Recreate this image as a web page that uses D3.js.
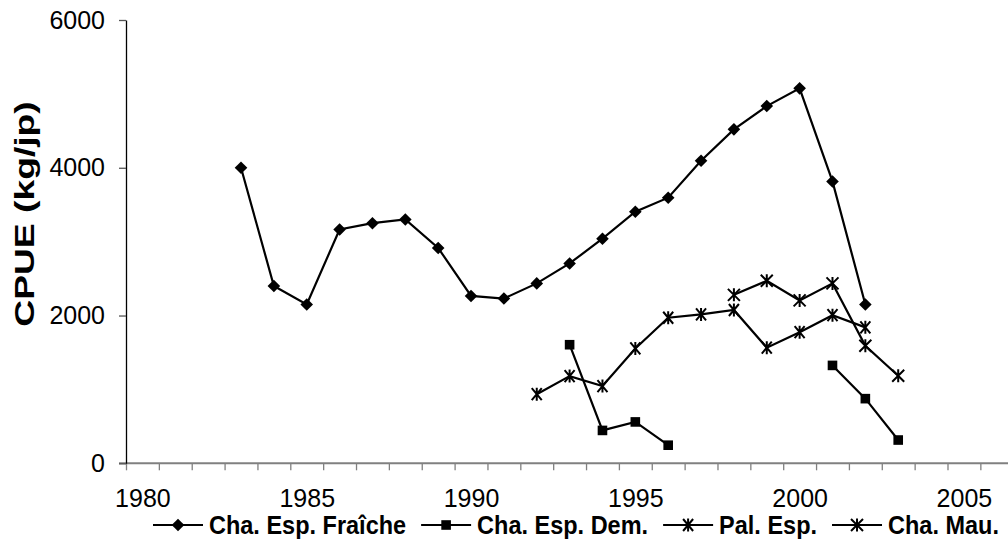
<!DOCTYPE html>
<html>
<head>
<meta charset="utf-8">
<script src="https://cdn.jsdelivr.net/npm/d3@7"></script>
<style>
  html, body { margin: 0; padding: 0; background: #fff; }
  svg { display: block; font-family: Arial, "Liberation Sans", sans-serif; }
</style>
</head>
<body>
<svg id="chart" width="1008" height="546"></svg>
<script>
// CPUE series (kg/jp) by year
const fraicheYears  = [1983,1984,1985,1986,1987,1988,1989,1990,1991,1992,1993,1994,1995,1996,1997,1998,1999,2000,2001,2002];
const fraicheValues = [4000,2400,2150,3165,3250,3300,2915,2265,2230,2435,2705,3040,3405,3595,4095,4520,4835,5075,3815,2150];

const demYears  = [1993,1994,1995,1996,1997,1998,1999,2000,2001,2002,2003];
const demValues = [1605,445,560,245,null,null,null,null,1325,875,315];

const palYears  = [1992,1993,1994,1995,1996,1997,1998,1999,2000,2001,2002];
const palValues = [935,1180,1045,1555,1970,2015,2075,1565,1775,2005,1840];

const mauYears  = [1998,1999,2000,2001,2002,2003];
const mauValues = [2280,2470,2205,2435,1590,1185];

const seriesNames = ["Cha. Esp. Fraîche", "Cha. Esp. Dem.", "Pal. Esp.", "Cha. Mau."];
const yTicks = [0, 2000, 4000, 6000];
const xLabelYears = [1980, 1985, 1990, 1995, 2000, 2005];
const firstYear = 1980, lastYear = 2006;

const svg = d3.select("#chart");

const left = 126, bandW = 32.86;
const x = d3.scaleLinear()
  .domain([firstYear - 0.5, lastYear + 0.5])
  .range([left, left + (lastYear - firstYear + 1) * bandW]);
const y = d3.scaleLinear().domain([0, 6000]).range([463.3, 20]);

// X axis: ticks on category boundaries, labels on category centres
const boundaries = d3.range(firstYear - 0.5, lastYear + 0.5, 1);
const xTickAxis = svg.append("g")
  .attr("transform", `translate(0,${y(0)})`)
  .call(d3.axisBottom(x).tickValues(boundaries).tickSize(7).tickSizeOuter(0).tickFormat(""));
xTickAxis.select(".domain").remove();
xTickAxis.selectAll(".tick line").attr("stroke", "#808080").attr("stroke-width", 1.3);
svg.append("line")
  .attr("x1", left - 7).attr("x2", 1008)
  .attr("y1", y(0)).attr("y2", y(0))
  .attr("stroke", "#808080").attr("stroke-width", 2);

const xLabelAxis = svg.append("g")
  .attr("transform", `translate(0,${y(0)})`)
  .call(d3.axisBottom(x).tickValues(xLabelYears).tickSize(0).tickPadding(26).tickFormat(d3.format("d")));
xLabelAxis.select(".domain").remove();
xLabelAxis.selectAll("text").attr("font-size", 25).attr("fill", "#000")
  .attr("font-family", "Arial, 'Liberation Sans', sans-serif");

// Y axis
const yAxis = svg.append("g")
  .attr("transform", `translate(${left},0)`)
  .call(d3.axisLeft(y).tickValues(yTicks).tickSize(7).tickSizeOuter(0).tickPadding(14).tickFormat(d3.format("d")));
yAxis.select(".domain").attr("stroke", "#000").attr("stroke-width", 1.3);
yAxis.selectAll(".tick line").attr("stroke", "#555").attr("stroke-width", 1.3);
yAxis.selectAll("text").attr("font-size", 25).attr("fill", "#000")
  .attr("font-family", "Arial, 'Liberation Sans', sans-serif");

// Axis title
svg.append("text")
  .attr("transform", "translate(24,214) rotate(-90) scale(1.38,1)")
  .attr("text-anchor", "middle")
  .attr("dy", "0.36em")
  .attr("font-size", 27)
  .attr("font-weight", "bold")
  .text("CPUE (kg/jp)");

// Marker drawers
function diamond(g, r) {
  g.append("path").attr("d", `M0,${-r}L${r},0L0,${r}L${-r},0Z`).attr("fill", "#000");
}
function square(g, r) {
  g.append("rect").attr("x", -r).attr("y", -r).attr("width", 2 * r).attr("height", 2 * r).attr("fill", "#000");
}
function star(g, rx, ry, rv) {
  g.append("path")
    .attr("d", `M${-rx},${-ry}L${rx},${ry}M${-rx},${ry}L${rx},${-ry}M0,${-rv}L0,${rv}`)
    .attr("stroke", "#000").attr("stroke-width", 2).attr("fill", "none");
}
const markers = [
  g => diamond(g, 6.3),
  g => square(g, 4.8),
  g => star(g, 5, 6, 6.5),
  g => star(g, 6, 6, 6.5)
];

const series = [
  { years: fraicheYears, values: fraicheValues },
  { years: demYears, values: demValues },
  { years: palYears, values: palValues },
  { years: mauYears, values: mauValues }
];

const line = d3.line()
  .defined(d => d.v != null)
  .x(d => x(d.year))
  .y(d => y(d.v));

series.forEach((s, i) => {
  const pts = s.years.map((yr, k) => ({ year: yr, v: s.values[k] }));
  svg.append("path")
    .datum(pts)
    .attr("d", line)
    .attr("fill", "none")
    .attr("stroke", "#000")
    .attr("stroke-width", 2.2);
  pts.filter(d => d.v != null).forEach(d => {
    const g = svg.append("g").attr("transform", `translate(${x(d.year)},${y(d.v)})`);
    markers[i](g);
  });
});

// Legend
const legend = svg.append("g").attr("transform", "translate(0,525)");
let lx = 153;
seriesNames.forEach((name, i) => {
  legend.append("line")
    .attr("x1", lx).attr("x2", lx + 50)
    .attr("y1", 0).attr("y2", 0)
    .attr("stroke", "#000").attr("stroke-width", 2.2);
  markers[i](legend.append("g").attr("transform", `translate(${lx + 25},0)`));
  const t = legend.append("text")
    .attr("transform", `translate(${lx + 56},0) scale(1,1.12)`)
    .attr("dy", "0.36em")
    .attr("font-size", 23.5)
    .attr("font-weight", "bold")
    .text(name);
  lx += 56 + t.node().getComputedTextLength() + 15;
});
</script>
</body>
</html>
